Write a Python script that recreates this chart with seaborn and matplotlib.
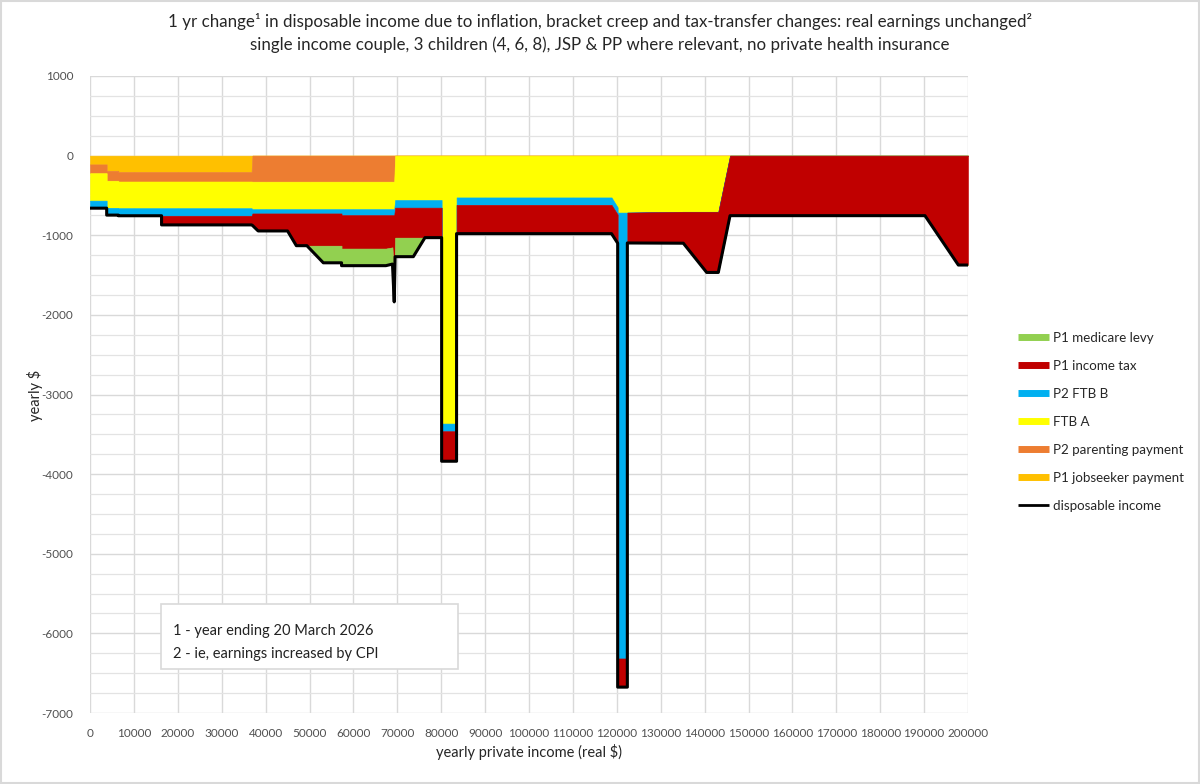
import matplotlib
matplotlib.use("Agg")
import matplotlib.pyplot as plt
import seaborn as sns
from matplotlib.lines import Line2D
from matplotlib.patches import Rectangle
from matplotlib.ticker import MultipleLocator

# yearly private income (real $) - breakpoints
income = [0, 3800, 3800, 6450, 6450, 16300, 16300, 36800, 37000, 38300,
          45000, 47000, 49400, 53150, 57300, 57300, 67400, 68900, 69300, 69500,
          73650, 76300, 80100, 80100, 83500, 83500, 118800, 120200, 120200, 122400,
          122400, 135150, 140470, 143120, 145790, 190200, 197800, 200000]

# change in each component (yearly $), same breakpoints
jobseeker = [-110, -110, -190, -190, -205, -205, -205, -205, 0, 0,
             0, 0, 0, 0, 0, 0, 0, 0, 0, 0,
             0, 0, 0, 0, 0, 0, 0, 0, 0, 0,
             0, 0, 0, 0, 0, 0, 0, 0]
parenting = [-110, -110, -125, -125, -120, -120, -120, -120, -327, -327,
             -327, -327, -327, -327, -327, -327, -327, -327, -327, 0,
             0, 0, 0, 0, 0, 0, 0, 0, 0, 0,
             0, 0, 0, 0, 0, 0, 0, 0]
ftb_a = [-345, -345, -340, -340, -335, -335, -335, -335, -345, -345,
         -345, -345, -345, -345, -345, -345, -345, -345, -345, -557,
         -557, -557, -557, -3365, -3365, -525, -525, -650, -715, -715,
         -715, -705, -705, -705, 0, 0, 0, 0]
ftb_b = [-95, -95, -92, -92, -95, -95, -95, -95, -54, -54,
         -54, -54, -54, -54, -54, -75, -75, -75, -75, -96,
         -96, -96, -96, -96, -96, -93, -93, -90, -5600, -5600,
         0, 0, 0, 0, 0, 0, 0, 0]
income_tax = [0, 0, 0, 0, 0, 0, -115, -115, -150, -220,
              -220, -405, -405, -405, -405, -420, -420, -405, -880, -377,
              -377, -377, -377, -377, -377, -362, -362, -360, -360, -360,
              -382, -395, -762, -762, -754, -754, -1374, -1374]
medicare = [0, 0, 0, 0, 0, 0, 0, 0, 0, 0,
            0, 0, 0, -215, -215, -215, -215, -210, -210, -239,
            -239, 0, 0, 0, 0, 0, 0, 0, 0, 0,
            0, 0, 0, 0, 0, 0, 0, 0]
disposable = [-660, -660, -747, -747, -755, -755, -870, -870, -876, -946,
              -946, -1131, -1131, -1346, -1346, -1382, -1382, -1362, -1837, -1269,
              -1269, -1030, -1030, -3838, -3838, -980, -980, -1100, -6675, -6675,
              -1097, -1100, -1467, -1467, -754, -754, -1374, -1374]

series_names = ["P1 jobseeker payment", "P2 parenting payment", "FTB A",
                "P2 FTB B", "P1 income tax", "P1 medicare levy"]
series_colors = ["#FFC000", "#ED7D31", "#FFFF00", "#00B0F0", "#C00000", "#92D050"]

sns.set_theme(style="whitegrid")
plt.rcParams['font.family'] = ['Lato', 'DejaVu Sans']
plt.rcParams['axes.unicode_minus'] = False

fig = plt.figure(figsize=(12, 7.84), dpi=100)
ax = fig.add_axes([90 / 1200, 1 - 713 / 784, 878 / 1200, 637 / 784])
ax.set_facecolor("white")

ax.stackplot(income, jobseeker, parenting, ftb_a, ftb_b, income_tax, medicare,
             colors=series_colors, edgecolor="face", linewidth=0.4, zorder=2)
sns.lineplot(x=income, y=disposable, estimator=None, sort=False,
             color="black", linewidth=2.2, ax=ax, zorder=3)

ax.set_xlim(0, 200000)
ax.set_ylim(-7000, 1000)
ax.xaxis.set_major_locator(MultipleLocator(10000))
ax.yaxis.set_major_locator(MultipleLocator(1000))
ax.yaxis.set_minor_locator(MultipleLocator(250))
ax.set_axisbelow(True)
ax.grid(which="major", axis="both", color="#d9d9d9", linewidth=1.0)
ax.grid(which="minor", axis="y", color="#e3e3e3", linewidth=0.9)
for s in ax.spines.values():
    s.set_visible(False)
ax.tick_params(axis="both", which="both", length=0, labelsize=8.5, colors="#505050")
ax.tick_params(axis="y", pad=12)
ax.tick_params(axis="x", pad=11)
ax.set_xlabel("")
ax.set_ylabel("")

fig.text(600 / 1200, 1 - 22 / 784,
         "1 yr change¹ in disposable income due to inflation, bracket creep and tax-transfer changes: real earnings unchanged²",
         ha="center", va="center", fontsize=12.2, color="#262626")
fig.text(600 / 1200, 1 - 45 / 784,
         "single income couple, 3 children (4, 6, 8), JSP & PP where relevant, no private health insurance",
         ha="center", va="center", fontsize=12.2, color="#262626")
fig.text(529 / 1200, 1 - 752 / 784, "yearly private income (real $)",
         ha="center", va="center", fontsize=10.5, color="#262626")
fig.text(35 / 1200, 1 - 395 / 784, "yearly $", rotation=90,
         ha="center", va="center", fontsize=10.5, color="#262626")

# footnote box
fig.add_artist(Rectangle((161 / 1200, 1 - 669 / 784), 297 / 1200, 65 / 784,
                         transform=fig.transFigure, facecolor="white",
                         edgecolor="#d9d9d9", linewidth=1.2, zorder=4))
fig.text(173 / 1200, 1 - 631 / 784, "1 - year ending 20 March 2026",
         ha="left", va="center", fontsize=10.5, color="#222222", zorder=5)
fig.text(173 / 1200, 1 - 654 / 784, "2 - ie, earnings increased by CPI",
         ha="left", va="center", fontsize=10.5, color="#222222", zorder=5)

# legend (reverse of stacking order, line last)
handles = [Line2D([0], [0], color=c, linewidth=5, solid_capstyle="butt")
           for c in reversed(series_colors)]
handles.append(Line2D([0], [0], color="black", linewidth=2, solid_capstyle="butt"))
labels = list(reversed(series_names)) + ["disposable income"]
fig.legend(handles, labels, loc="upper left", bbox_to_anchor=(1006 / 1200, 1 - 320 / 784),
           frameon=False, fontsize=9.6, handlelength=2.3, handletextpad=0.35,
           labelspacing=1.2, labelcolor="#262626")

# chart border
fig.add_artist(Rectangle((0.001, 0.001), 0.998, 0.998, transform=fig.transFigure,
                         fill=False, edgecolor="#d9d9d9", linewidth=1.5))

fig.savefig("out.png", dpi=100)
